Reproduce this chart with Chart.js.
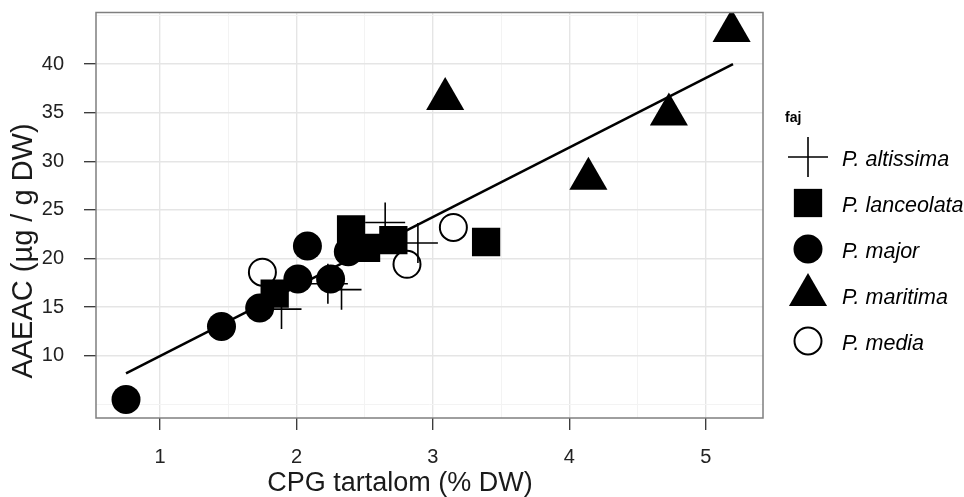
<!DOCTYPE html>
<html>
<head>
<meta charset="utf-8">
<script src="https://cdn.jsdelivr.net/npm/chart.js@4.4.1/dist/chart.umd.min.js"></script>
<style>
  html, body { margin: 0; padding: 0; background: #fff; }
  #wrap { width: 964px; height: 497px; }
</style>
</head>
<body>
<div id="wrap"><canvas id="chart" width="964" height="497"></canvas></div>
<script>
// species groups
const species = ['P. altissima', 'P. lanceolata', 'P. major', 'P. maritima', 'P. media'];

const altissimaX = [2.65, 2.89, 2.33, 2.23, 1.89];
const altissimaY = [23.7, 21.6, 16.8, 17.4, 14.8];

const lanceolataX = [2.40, 2.51, 2.71, 1.84, 3.39];
const lanceolataY = [23.0, 21.1, 21.9, 16.4, 21.7];

const majorX = [0.75, 1.45, 1.73, 2.01, 2.08, 2.25, 2.38];
const majorY = [5.5, 13.0, 14.9, 17.9, 21.3, 17.9, 20.7];

const maritimaX = [5.19, 3.09, 4.73, 4.14];
const maritimaY = [43.4, 36.4, 34.8, 28.2];

const mediaX = [1.75, 2.81, 3.15];
const mediaY = [18.6, 19.4, 23.2];

// fitted line end points
const fitX = [0.75, 5.2];
const fitY = [8.2, 40.0];

// axis breaks
const xMajor = [1, 2, 3, 4, 5];
const xMinor = [1.5, 2.5, 3.5, 4.5];
const yMajor = [10, 15, 20, 25, 30, 35, 40];
const yMinor = [5, 7.5, 12.5, 17.5, 22.5, 27.5, 32.5, 37.5, 42.5, 45];

const FONT = '"Liberation Sans", Arial, Helvetica, sans-serif';

const pts = (xs, ys) => xs.map((x, i) => ({ x, y: ys[i] }));

const styles = [
  { pointStyle: 'cross', radius: 20, bg: '#000', border: '#000', bw: 1.6 },
  { pointStyle: 'rect', radius: 20, bg: '#000', border: '#000', bw: 0 },
  { pointStyle: 'circle', radius: 14.5, bg: '#000', border: '#000', bw: 0 },
  { pointStyle: 'triangle', radius: 22, bg: '#000', border: '#000', bw: 0 },
  { pointStyle: 'circle', radius: 13.5, bg: '#fff', border: '#000', bw: 2 }
];
const groupData = [
  pts(altissimaX, altissimaY),
  pts(lanceolataX, lanceolataY),
  pts(majorX, majorY),
  pts(maritimaX, maritimaY),
  pts(mediaX, mediaY)
];
// draw order: media at the bottom, then the rest
const drawOrder = [2, 3, 4, 1, 5];

const datasets = species.map((name, i) => ({
  label: name,
  data: groupData[i],
  pointStyle: styles[i].pointStyle,
  pointRadius: styles[i].radius,
  pointHoverRadius: styles[i].radius,
  pointBackgroundColor: styles[i].bg,
  pointBorderColor: styles[i].border,
  pointBorderWidth: styles[i].bw,
  pointHoverBorderWidth: styles[i].bw,
  clip: 0,
  order: drawOrder[i]
}));

datasets.push({
  label: 'fit',
  data: pts(fitX, fitY),
  showLine: true,
  borderColor: '#000',
  borderWidth: 2.5,
  pointRadius: 0,
  pointHoverRadius: 0,
  order: 0
});

const isMajor = (list, v) => list.some(m => Math.abs(m - v) < 1e-6);

function gridFor(major) {
  return {
    color: ctx => ctx.tick && isMajor(major, ctx.tick.value) ? '#e5e5e5' : '#f3f3f3',
    lineWidth: ctx => ctx.tick && isMajor(major, ctx.tick.value) ? 1.4 : 1,
    tickColor: ctx => ctx.tick && isMajor(major, ctx.tick.value) ? '#333' : 'rgba(0,0,0,0)',
    tickWidth: 1.3,
    tickLength: 12,
    drawTicks: true
  };
}

// the panel is placed by the layout padding alone, not by tick label overhang
const noOverhang = s => { s.getPadding = () => ({ left: 0, top: 0, right: 0, bottom: 0 }); };

// panel frame and axis titles
const framePlugin = {
  id: 'frame',
  afterDraw(chart) {
    const { ctx, chartArea: a } = chart;
    ctx.save();
    ctx.strokeStyle = '#7f7f7f';
    ctx.lineWidth = 1.5;
    ctx.strokeRect(a.left, a.top, a.right - a.left, a.bottom - a.top);

    ctx.fillStyle = '#1a1a1a';
    ctx.textAlign = 'center';
    ctx.textBaseline = 'middle';
    ctx.font = '27px ' + FONT;
    ctx.fillText('CPG tartalom (% DW)', 400, 484);

    ctx.translate(24, 251);
    ctx.rotate(-Math.PI / 2);
    ctx.font = '29px ' + FONT;
    ctx.fillText('AAEAC (µg / g DW)', 0, 0);
    ctx.restore();
  }
};

// legend on the right
const legendPlugin = {
  id: 'sideLegend',
  afterDraw(chart) {
    const { ctx } = chart;
    const symX = 808, textX = 842, top = 157, step = 46;
    ctx.save();
    ctx.fillStyle = '#000';
    ctx.font = 'bold 14px ' + FONT;
    ctx.textAlign = 'left';
    ctx.textBaseline = 'middle';
    ctx.fillText('faj', 785, 118);
    species.forEach((name, i) => {
      const y = top + i * step;
      const s = styles[i];
      ctx.fillStyle = s.bg;
      ctx.strokeStyle = s.border;
      ctx.lineWidth = s.bw;
      Chart.helpers.drawPoint(ctx, { pointStyle: s.pointStyle, radius: s.radius, rotation: 0, borderWidth: s.bw }, symX, y);
      ctx.fillStyle = '#000';
      ctx.font = 'italic 21.5px ' + FONT;
      ctx.fillText(name, textX, y + 3);
    });
    ctx.restore();
  }
};

new Chart(document.getElementById('chart'), {
  type: 'scatter',
  data: { datasets },
  options: {
    responsive: false,
    animation: false,
    events: [],
    layout: { autoPadding: false, padding: { left: 0, right: 201, top: 12.5, bottom: 0 } },
    plugins: { legend: { display: false }, tooltip: { enabled: false } },
    scales: {
      x: {
        type: 'linear',
        min: 0.53,
        max: 5.42,
        afterFit: s => { s.height = 79; noOverhang(s); },
        afterBuildTicks: s => { s.ticks = [...xMajor, ...xMinor].sort((a, b) => a - b).map(v => ({ value: v })); },
        ticks: {
          padding: 15,
          color: '#222',
          font: { family: FONT, size: 20 },
          callback: v => isMajor(xMajor, v) ? String(v) : ''
        },
        grid: gridFor(xMajor),
        border: { display: false }
      },
      y: {
        type: 'linear',
        min: 3.6,
        max: 45.3,
        afterFit: s => { s.width = 96; noOverhang(s); },
        afterBuildTicks: s => { s.ticks = [...yMajor, ...yMinor].sort((a, b) => a - b).map(v => ({ value: v })); },
        ticks: {
          padding: 20,
          color: '#222',
          font: { family: FONT, size: 20 },
          callback: v => isMajor(yMajor, v) ? String(v) : ''
        },
        grid: gridFor(yMajor),
        border: { display: false }
      }
    }
  },
  plugins: [framePlugin, legendPlugin]
});
</script>
</body>
</html>
